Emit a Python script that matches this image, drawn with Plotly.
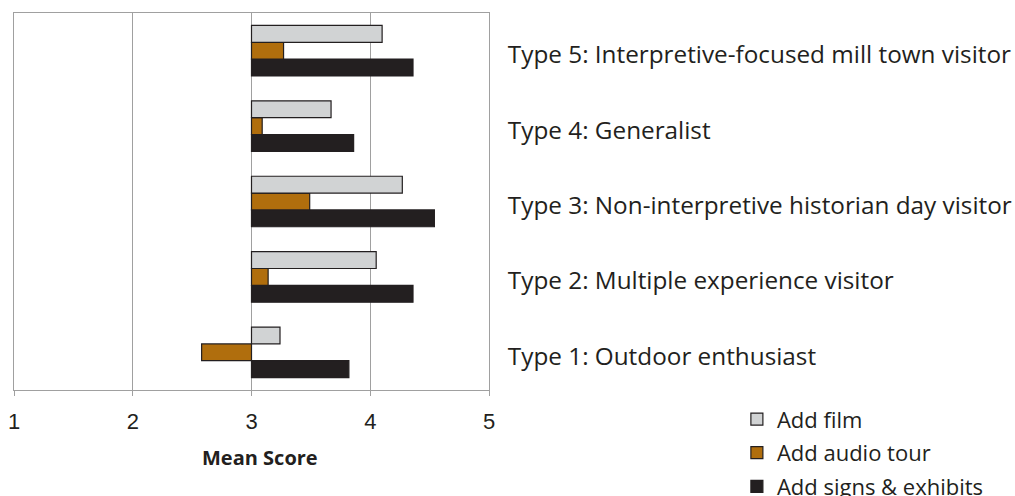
import plotly.graph_objects as go

# Visitor segments, bottom to top
segments = [
    "Type 1: Outdoor enthusiast",
    "Type 2: Multiple experience visitor",
    "Type 3: Non-interpretive historian day visitor",
    "Type 4: Generalist",
    "Type 5: Interpretive-focused mill town visitor",
]

# Mean scores per proposed addition
add_film = [3.24, 4.05, 4.27, 3.67, 4.10]
add_audio_tour = [2.58, 3.14, 3.49, 3.09, 3.27]
add_signs_exhibits = [3.82, 4.36, 4.54, 3.86, 4.36]

x_ticks = [1, 2, 3, 4, 5]
midpoint = 3  # bars grow out from the scale midpoint

series = [
    ("Add signs & exhibits", add_signs_exhibits, "#231f20", 3),
    ("Add audio tour", add_audio_tour, "#b06e0d", 2),
    ("Add film", add_film, "#d1d3d4", 1),
]

fig = go.Figure()
for name, vals, color, rank in series:
    fig.add_trace(go.Bar(
        y=segments,
        x=[v - midpoint for v in vals],
        base=midpoint,
        orientation="h",
        name=name,
        legendrank=rank,
        legendgroup=name,
        marker=dict(color=color, line=dict(color="#231f20", width=1.2)),
        hoverinfo="skip",
    ))

fig.update_layout(
    width=1015,
    height=496,
    margin=dict(l=13.5, r=526, t=13, b=106, autoexpand=False),
    paper_bgcolor="white",
    plot_bgcolor="white",
    barmode="group",
    bargap=0.33,
    bargroupgap=0,
    font=dict(family="Open Sans", color="#231f20"),
    xaxis=dict(
        range=[1, 5],
        tickvals=x_ticks,
        showgrid=True,
        gridcolor="#a0a0a0",
        gridwidth=1,
        zeroline=False,
        showline=True,
        linecolor="#a0a0a0",
        linewidth=1,
        mirror=True,
        ticks="outside",
        ticklen=5,
        tickcolor="#a0a0a0",
        ticklabelstandoff=7,
        tickfont=dict(family="Liberation Sans, Arial", size=22, color="#231f20"),
    ),
    yaxis=dict(
        side="right",
        showgrid=False,
        zeroline=False,
        showline=True,
        linecolor="#a0a0a0",
        mirror=True,
        ticks="",
        ticklabelstandoff=13,
        ticklabelshift=4,
        tickfont=dict(family="Open Sans", size=24.3, color="#231f20"),
    ),
    legend=dict(
        xref="container",
        yref="container",
        x=0.726,
        xanchor="left",
        y=0.197,
        yanchor="top",
        traceorder="grouped",
        tracegroupgap=2,
        font=dict(family="Open Sans", size=22, color="#231f20"),
        bgcolor="rgba(0,0,0,0)",
    ),
    annotations=[dict(
        text="<b>Mean Score</b>",
        xref="paper", yref="paper",
        x=0.518, y=-0.178,
        xanchor="center", yanchor="middle",
        showarrow=False,
        font=dict(family="Open Sans", size=20, color="#231f20"),
    )],
)

fig.write_html("out.html")
